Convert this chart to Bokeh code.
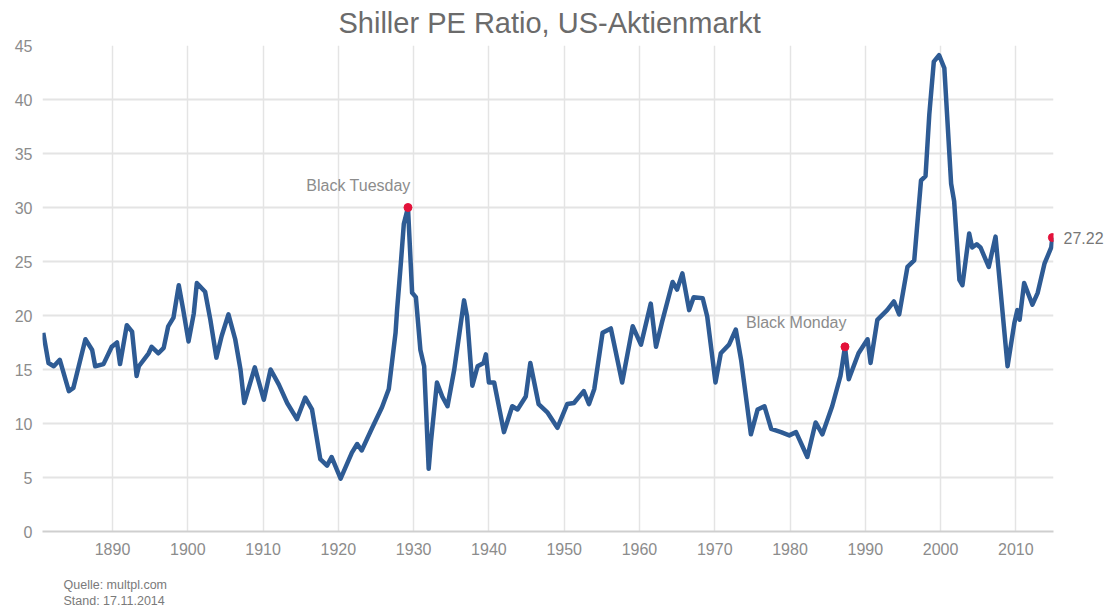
from bokeh.plotting import figure
from bokeh.models import Range1d, Label, FixedTicker, ColumnDataSource, LinearAxis, Title
from bokeh.embed import file_html
from bokeh.resources import INLINE

# ---- data ----
years = [1880.8, 1881.5, 1882.2, 1883.0, 1884.2, 1884.8, 1886.4, 1887.3, 1887.7, 1888.8,
         1889.9, 1890.6, 1891.0, 1891.9, 1892.6, 1893.2, 1893.5, 1894.8, 1895.2, 1896.1,
         1896.8, 1897.4, 1898.1, 1898.8, 1899.4, 1900.1, 1900.8, 1901.2, 1902.3, 1903.0,
         1903.8, 1904.5, 1905.4, 1906.3, 1907.0, 1907.5, 1908.9, 1910.1, 1911.0, 1912.1,
         1913.2, 1914.5, 1915.6, 1916.5, 1917.6, 1918.5, 1919.1, 1920.3, 1921.8, 1922.5,
         1923.1, 1924.5, 1925.8, 1926.7, 1927.6, 1927.8, 1928.3, 1928.7, 1929.25, 1929.8,
         1930.3, 1930.9, 1931.4, 1932.0, 1932.3, 1933.1, 1933.8, 1934.5, 1935.4, 1936.7,
         1937.1, 1937.8, 1938.5, 1939.3, 1939.6, 1940.0, 1940.7, 1942.0, 1943.1, 1943.8,
         1944.9, 1945.5, 1946.6, 1947.8, 1949.1, 1950.4, 1951.3, 1952.6, 1953.3, 1954.0,
         1955.1, 1956.2, 1956.8, 1957.7, 1959.1, 1960.2, 1961.5, 1962.2, 1963.0, 1964.4,
         1965.0, 1965.7, 1966.6, 1967.2, 1968.4, 1969.0, 1970.1, 1970.8, 1971.9, 1972.8,
         1973.5, 1974.8, 1975.7, 1976.6, 1977.5, 1978.8, 1979.9, 1980.8, 1982.3, 1983.4,
         1984.3, 1985.6, 1986.7, 1987.3, 1987.8, 1989.1, 1990.3, 1990.7, 1991.6, 1992.9,
         1993.8, 1994.5, 1995.6, 1996.5, 1997.4, 1998.0, 1998.5, 1999.1, 1999.8, 2000.5,
         2001.4, 2001.8, 2002.5, 2002.9, 2003.8, 2004.2, 2004.8, 2005.3, 2006.4, 2007.3,
         2008.9, 2009.8, 2010.2, 2010.5, 2011.1, 2012.2, 2012.9, 2013.8, 2014.7, 2014.85]
pe = [18.4, 15.6, 15.3, 15.9, 13.0, 13.3, 17.8, 16.8, 15.3, 15.5,
      17.1, 17.5, 15.5, 19.1, 18.5, 14.4, 15.3, 16.5, 17.1, 16.5,
      17.0, 19.0, 19.8, 22.8, 20.5, 17.6, 20.2, 23.0, 22.2, 19.6,
      16.1, 18.1, 20.1, 17.8, 15.0, 11.9, 15.2, 12.2, 15.0, 13.6,
      11.9, 10.4, 12.4, 11.3, 6.7, 6.1, 6.9, 4.9, 7.3, 8.1,
      7.5, 9.6, 11.5, 13.2, 18.4, 20.5, 24.8, 28.5, 30.0, 22.1,
      21.7, 16.8, 15.3, 5.8, 8.3, 13.8, 12.5, 11.6, 15.0, 21.4,
      19.9, 13.5, 15.3, 15.6, 16.4, 13.8, 13.8, 9.2, 11.6, 11.3,
      12.5, 15.6, 11.8, 11.0, 9.6, 11.8, 11.9, 13.0, 11.8, 13.2,
      18.4, 18.8, 16.8, 13.8, 19.0, 17.3, 21.1, 17.1, 19.4, 23.1,
      22.4, 23.9, 20.5, 21.7, 21.6, 19.9, 13.8, 16.5, 17.3, 18.7,
      15.9, 9.0, 11.3, 11.6, 9.5, 9.2, 8.9, 9.2, 6.9, 10.1,
      9.0, 11.6, 14.4, 17.1, 14.1, 16.5, 17.8, 15.6, 19.6, 20.5,
      21.3, 20.1, 24.5, 25.1, 32.5, 32.9, 38.6, 43.5, 44.1, 42.9,
      32.2, 30.6, 23.3, 22.8, 27.6, 26.3, 26.6, 26.3, 24.5, 27.3,
      15.3, 19.3, 20.5, 19.6, 23.0, 21.0, 22.1, 24.8, 26.3, 27.22]

event_names = ["Black Tuesday", "Black Monday"]
event_years = [1929.25, 1987.3]
event_values = [30.0, 17.1]
last_year = years[-1]
last_value = pe[-1]

y_ticks = [0, 5, 10, 15, 20, 25, 30, 35, 40, 45]
x_ticks = [1890, 1900, 1910, 1920, 1930, 1940, 1950, 1960, 1970, 1980, 1990, 2000, 2010]

title_text = "Shiller PE Ratio, US-Aktienmarkt"
source_text = "Quelle: multpl.com"
date_text = "Stand: 17.11.2014"

FONT = "Liberation Sans"
GRAY = "#8c8c8c"
X_START, X_END = 1880.7, 2015.0

p = figure(width=1108, height=609, output_backend="svg", toolbar_location=None,
           x_range=Range1d(X_START, X_END), y_range=Range1d(0, 45),
           min_border_left=42, min_border_right=55, min_border_top=45, min_border_bottom=76)
p.outline_line_color = None
p.background_fill_color = "white"
p.border_fill_color = "white"

# title
p.title.text = title_text
p.title.align = "left"
p.title.offset = 296
p.title.vertical_align = "top"
p.title.standoff = 9
p.title.text_font = FONT
p.title.text_font_size = "29px"
p.title.text_font_style = "normal"
p.title.text_color = "#6b6b6b"

p.xaxis.ticker = FixedTicker(ticks=x_ticks)
p.yaxis.ticker = FixedTicker(ticks=y_ticks)

# right axis carrying the last value
right_ax = LinearAxis(ticker=FixedTicker(ticks=[last_value]),
                      major_label_overrides={last_value: f"{last_value:.2f}"})
p.add_layout(right_ax, "right")

for ax in (p.xaxis[0], p.yaxis[0], right_ax):
    ax.major_tick_line_color = None
    ax.minor_tick_line_color = None
    ax.major_tick_out = 0
    ax.minor_tick_out = 0
    ax.major_label_text_font = FONT
    ax.major_label_text_font_size = "16px"
    ax.major_label_text_color = GRAY
p.yaxis.axis_line_color = None
right_ax.axis_line_color = None
right_ax.major_label_text_color = "#777777"
p.xaxis.axis_line_color = "#cfcfcf"
p.xaxis.axis_line_width = 2
p.yaxis[0].major_label_standoff = 10
right_ax.major_label_standoff = 10
p.xaxis.major_label_standoff = 11

p.xgrid.grid_line_color = "#e4e4e4"
p.xgrid.grid_line_width = 1.5
p.ygrid.grid_line_color = "#e4e4e4"
p.ygrid.grid_line_width = 2

# footer (spacer + two lines) below the x axis
p.add_layout(Title(text=" ", text_font_size="12px", standoff=4), "below")
p.add_layout(Title(text=source_text, align="left", offset=21, standoff=0, vertical_align="top",
                   text_font=FONT, text_font_size="12.5px", text_font_style="normal",
                   text_color="#7a7a7a"), "below")
p.add_layout(Title(text=date_text, align="left", offset=21, standoff=0, vertical_align="top",
                   text_font=FONT, text_font_size="12.5px", text_font_style="normal",
                   text_color="#7a7a7a"), "below")

src = ColumnDataSource(dict(x=years, y=pe))
p.line("x", "y", source=src, line_color="#2e5b94", line_width=4.5, line_join="round")

ev = ColumnDataSource(dict(x=event_years + [last_year], y=event_values + [last_value]))
p.scatter("x", "y", source=ev, size=8, fill_color="#e3123a", line_color="#e3123a")

p.add_layout(Label(x=1929.6, y=32.0, text=event_names[0], text_align="right", text_baseline="middle",
                   text_font=FONT, text_font_size="16px", text_color=GRAY))
p.add_layout(Label(x=1987.5, y=19.35, text=event_names[1], text_align="right", text_baseline="middle",
                   text_font=FONT, text_font_size="16px", text_color=GRAY))

open("out.html", "w").write(file_html(p, INLINE))
